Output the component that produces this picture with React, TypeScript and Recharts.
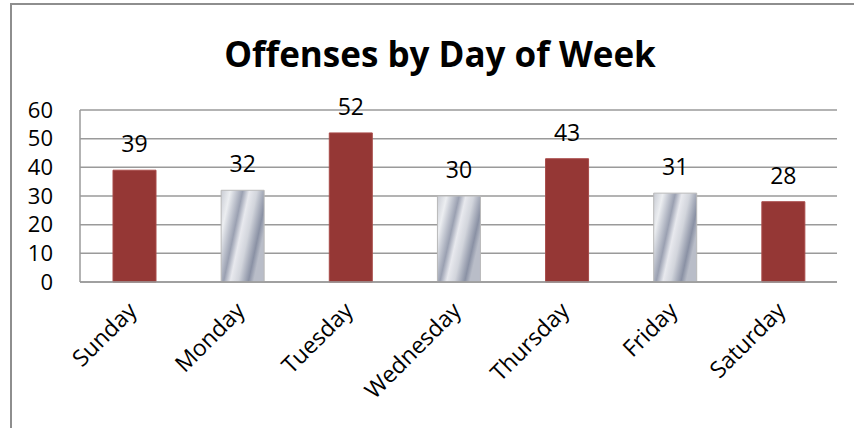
import React from 'react';
import { BarChart, Bar, XAxis, YAxis, CartesianGrid, LabelList, Cell } from 'recharts';

const days = ['Sunday', 'Monday', 'Tuesday', 'Wednesday', 'Thursday', 'Friday', 'Saturday'];
const offenses = [39, 32, 52, 30, 43, 31, 28];
const yTicks = [0, 10, 20, 30, 40, 50, 60];

const data = days.map((day, i) => ({ day, offenses: offenses[i] }));

const WIDE = '"Open Sans", Lato, sans-serif';

const XTick = (props: any) => {
  const { x, y, payload } = props;
  const ax = x + 4;
  const ay = y + 30;
  return (
    <text
      x={ax}
      y={ay}
      transform={`rotate(-45, ${ax}, ${ay})`}
      textAnchor="end"
      fontFamily={WIDE}
      fontSize={23}
      fill="#000"
    >
      {payload.value}
    </text>
  );
};

export default function App() {
  return (
    <div style={{ position: 'fixed', left: 0, top: 0, width: 854, height: 428, background: '#fff' }}>
      <div
        style={{
          position: 'absolute',
          left: 10,
          top: 3,
          width: 844,
          height: 425,
          borderLeft: '2px solid #8e8e8e',
          borderTop: '2px solid #8e8e8e',
        }}
      />
      <svg width={854} height={100} style={{ position: 'absolute', left: 0, top: 0 }}>
        <text x={440} y={67} textAnchor="middle" fontFamily={WIDE} fontWeight={700} fontSize={35} fill="#000">
          Offenses by Day of Week
        </text>
      </svg>
      <BarChart
        width={854}
        height={428}
        data={data}
        margin={{ top: 110, right: 17, bottom: 26, left: 10 }}
        barSize={43}
        style={{ position: 'absolute', left: 0, top: 0 }}
      >
        <defs>
          <linearGradient id="silver" x1="0" y1="0" x2="1" y2="0.45">
            <stop offset="0" stopColor="#c9ccd4" />
            <stop offset="0.18" stopColor="#eceef1" />
            <stop offset="0.42" stopColor="#9aa0b1" />
            <stop offset="0.55" stopColor="#e8e9ee" />
            <stop offset="0.7" stopColor="#d2d5dc" />
            <stop offset="0.9" stopColor="#8a91a4" />
            <stop offset="1" stopColor="#b9bdc8" />
          </linearGradient>
        </defs>
        <CartesianGrid vertical={false} stroke="#9a9a9a" strokeWidth={1.5} />
        <XAxis
          dataKey="day"
          tick={<XTick />}
          tickLine={false}
          tickSize={0}
          tickMargin={0}
          axisLine={{ stroke: '#9a9a9a', strokeWidth: 1.5 }}
          interval={0}
          height={120}
        />
        <YAxis
          domain={[0, 60]}
          ticks={yTicks}
          width={70}
          tickSize={0}
          tickMargin={27}
          tickLine={false}
          axisLine={{ stroke: '#9a9a9a', strokeWidth: 1.5 }}
          tick={{ fontFamily: WIDE, fontSize: 22, fill: '#000' }}
          interval={0}
        />
        <Bar dataKey="offenses" isAnimationActive={false}>
          {data.map((d, i) => (
            <Cell
              key={d.day}
              fill={i % 2 === 0 ? '#953735' : 'url(#silver)'}
              stroke={i % 2 === 0 ? '#a84a48' : '#b8b8b8'}
              strokeWidth={1}
            />
          ))}
          <LabelList
            dataKey="offenses"
            position="top"
            offset={18}
            style={{ fontFamily: WIDE, fontSize: 23, fill: '#000' }}
          />
        </Bar>
      </BarChart>
    </div>
  );
}
